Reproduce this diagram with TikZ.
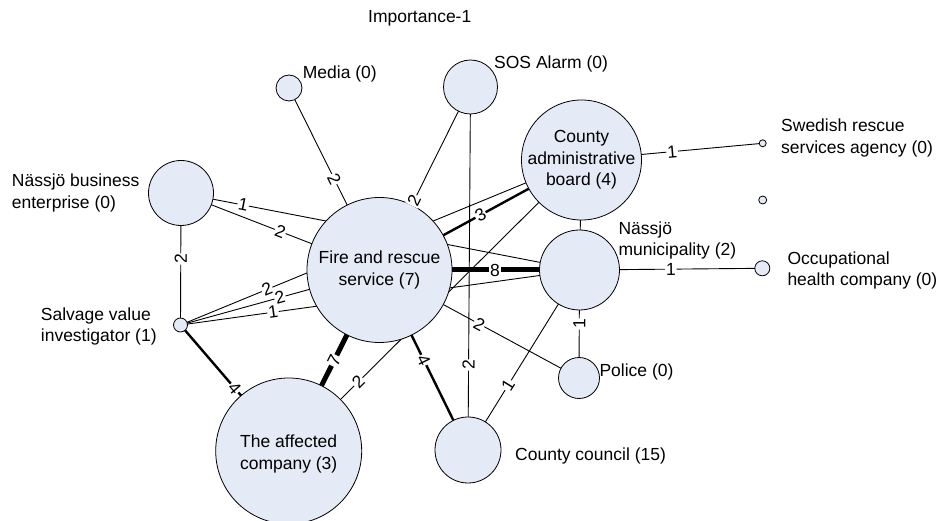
\documentclass[tikz,border=0pt]{standalone}
\usepackage{fontspec}
\setmainfont{Liberation Sans}
\usetikzlibrary{backgrounds}
\definecolor{bubble}{RGB}{228,234,246}
\tikzset{
  circ/.style={circle, draw=black, line width=0.8pt, fill=bubble, inner sep=0pt},
  intext/.style={align=center, inner sep=0pt},
  outtext/.style={align=left, inner sep=0pt, anchor=base west},
  lbl/.style={fill=white, inner sep=0.8pt, sloped},
  thinlink/.style={line width=0.9pt},
  midlink/.style={line width=2.4pt},
  heavylink/.style={line width=5pt},
}
% draws a tie between two actors (behind the bubbles) and puts its weight on top
\newcommand{\conn}[5][thinlink]{%
  \begin{pgfonlayer}{background}\draw[#1] (#2.center) -- (#3.center);\end{pgfonlayer}
  \path (#2.center) -- (#3.center) node[lbl,pos=#4]{#5};}
\begin{document}
\begin{tikzpicture}[x=1pt,y=-1pt,font=\fontsize{17.5}{21.5}\selectfont]
\useasboundingbox (0,0) rectangle (943,521);

% actors
\node[circ, minimum size=145] (fire)    at (379.5,270) {};
\node[circ, minimum size=80]  (muni)    at (579.5,270) {};
\node[circ, minimum size=120] (board)   at (581.5,160) {};
\node[circ, minimum size=54]  (sos)     at (470.5,87)  {};
\node[circ, minimum size=26]  (media)   at (289,88)    {};
\node[circ, minimum size=65]  (biz)     at (181,193)   {};
\node[circ, minimum size=14]  (salv)    at (180.5,325) {};
\node[circ, minimum size=146] (aff)     at (288.7,451) {};
\node[circ, minimum size=66]  (council) at (468,450)   {};
\node[circ, minimum size=41]  (police)  at (579,378)   {};
\node[circ, minimum size=7]   (swed)    at (762.7,143.3) {};
\node[circ, minimum size=8]   (blank)   at (762.7,200) {};
\node[circ, minimum size=15]  (occ)     at (762.3,268.3) {};

% names inside the bubbles
\node[intext] (firetxt)  at (fire)  {Fire and rescue\\service (7)};
\node[intext] (boardtxt) at (board) {County\\administrative\\board (4)};
\node[intext] (afftxt)   at ([yshift=-3]aff.center) {The affected\\company (3)};

% names beside the bubbles (anchored on the baseline of the last line)
\node[outtext] (title)     at (368,22.7)  {Importance-1};
\node[outtext] (medialbl)  at (302.7,78.3) {Media (0)};
\node[outtext] (soslbl)    at (494,68.3)  {SOS Alarm (0)};
\node[outtext] (swedlbl)   at (781,153.5) {Swedish rescue\\services agency (0)};
\node[outtext] (munilbl)   at (618.3,256) {Nässjö\\municipality (2)};
\node[outtext] (occlbl)    at (787.3,286) {Occupational\\health company (0)};
\node[outtext] (policelbl) at (599.3,376.7) {Police (0)};
\node[outtext] (councillbl) at (515,460.7) {County council (15)};
\node[outtext] (bizlbl)    at (11.7,208.3) {Nässjö business\\enterprise (0)};
\node[outtext] (salvlbl)   at (40.7,341.7) {Salvage value\\investigator (1)};

% ties and their weights
\conn{media}{fire}{0.5}{2}
\conn{sos}{fire}{0.62}{2}
\conn{sos}{council}{0.766}{2}
\conn{biz}{fire}{0.5}{2}
\conn{biz}{muni}{0.156}{1}
\conn{biz}{salv}{0.5}{2}
\conn{salv}{board}{0.216}{2}
\conn{salv}{fire}{0.5}{2}
\conn{salv}{muni}{0.232}{1}
\conn[midlink]{salv}{aff}{0.5}{4}
\conn[heavylink]{fire}{aff}{0.5}{7}
\conn{board}{aff}{0.762}{2}
\conn[midlink]{fire}{board}{0.5}{3}
\conn[heavylink]{fire}{muni}{0.578}{8}
\conn{fire}{police}{0.5}{2}
\conn[midlink]{fire}{council}{0.5}{4}
\conn{muni}{council}{0.64}{1}
\conn{muni}{police}{0.5}{1}
\conn{muni}{occ}{0.5}{1}
\conn{board}{swed}{0.5}{1}
\begin{pgfonlayer}{background}\draw[thinlink] (board.center) -- (muni.center);\end{pgfonlayer}
\end{tikzpicture}
\end{document}
